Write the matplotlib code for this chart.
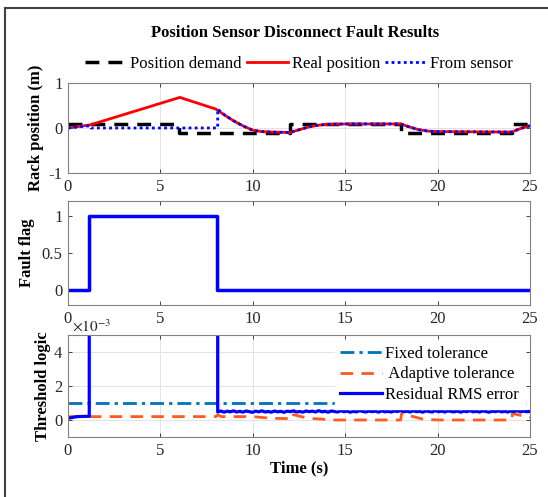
import numpy as np
import matplotlib.pyplot as plt
from matplotlib.lines import Line2D
from matplotlib.ticker import FixedLocator

plt.rcParams['font.family'] = ['Liberation Serif', 'DejaVu Serif']
plt.rcParams['mathtext.fontset'] = 'stix'
plt.rcParams['axes.unicode_minus'] = False

# Rack position (m)
t_demand = [0, 6, 6, 12, 12, 18, 18, 24, 24, 25]
demand = [0.1, 0.1, -0.1, -0.1, 0.1, 0.1, -0.1, -0.1, 0.1, 0.1]

t_real = [0, 1.2, 6.05, 8.0, 8.5, 9.0, 9.5, 10.0, 10.5, 11.0, 12.0, 12.5, 13.0, 13.5, 14.0,
          15.0, 18.0, 18.5, 19.0, 19.5, 20.0, 24.0, 24.5, 25.0]
real = [0.0, 0.07, 0.68, 0.42, 0.28, 0.15, 0.04, -0.05, -0.08, -0.09, -0.1, -0.04, 0.02, 0.06,
        0.08, 0.09, 0.09, 0.02, -0.04, -0.07, -0.08, -0.09, -0.01, 0.05]

t_sensor_fault = [0, 1.2, 1.25, 8.1, 8.1]
sensor_fault = [0.0, 0.05, 0.0, 0.0, 0.42]

# Fault flag
t_flag = [0, 1.15, 1.15, 8.05, 8.05, 25]
flag = [0, 0, 1, 1, 0, 0]

# Threshold logic
t_fixed = [0, 25]
fixed_tol = [1e-3, 1e-3]

t_adapt = [0, 8.0, 8.1, 8.3, 10.0, 11.0, 12.0, 12.05, 13.0, 14.5, 18.0, 18.05, 19.2, 20.0,
           24.0, 24.05, 25.0]
adapt_tol = [0.2e-3, 0.2e-3, 0.3e-3, 0.2e-3, 0.2e-3, 0.1e-3, 0.08e-3, 0.35e-3, 0.1e-3, 0.0,
             0.0, 0.38e-3, 0.05e-3, 0.0, 0.0, 0.38e-3, 0.15e-3]

t_resid_start = [0, 0.5, 1.15, 1.15, 8.1]
resid_start = [0.1e-3, 0.2e-3, 0.22e-3, 20e-3, 20e-3]
# residual after fault clears, x1e-3
resid_after = [0.47, 0.53, 0.46, 0.52, 0.48, 0.54, 0.47, 0.51, 0.46, 0.53, 0.49, 0.45, 0.52,
               0.48, 0.54, 0.47, 0.5, 0.46, 0.53, 0.48, 0.51, 0.45, 0.52, 0.49, 0.54, 0.47,
               0.5, 0.46, 0.53, 0.49, 0.52, 0.47, 0.55, 0.48, 0.51, 0.46, 0.53, 0.5, 0.47,
               0.54, 0.49, 0.52, 0.46, 0.51, 0.48, 0.55, 0.5, 0.47, 0.53, 0.49, 0.52, 0.46,
               0.54, 0.48, 0.51, 0.47, 0.53, 0.5, 0.56, 0.48, 0.52, 0.47, 0.54, 0.49, 0.51,
               0.46, 0.53, 0.5, 0.47, 0.55, 0.49, 0.52, 0.47, 0.54, 0.5, 0.48, 0.53, 0.46,
               0.52, 0.49, 0.55, 0.48, 0.51, 0.47, 0.53, 0.5, 0.46, 0.52, 0.49, 0.54, 0.48,
               0.51, 0.47, 0.53, 0.5, 0.55, 0.48, 0.52, 0.49, 0.5]

x_ticks = [0, 5, 10, 15, 20, 25]

c_blue = '#0000ff'
c_mblue = '#0072bd'
c_orange = '#ff5a1f'
c_axis = '#262626'
fs = 12

fig = plt.figure(figsize=(5.48, 4.97), dpi=100)
W, H = 548.0, 497.0


def make_axes(top, bottom):
    ax = fig.add_axes([68 / W, 1 - bottom / H, (530 - 68) / W, (bottom - top) / H])
    ax.set_xlim(0, 25)
    ax.xaxis.set_major_locator(FixedLocator(x_ticks))
    ax.tick_params(direction='in', length=3, width=0.6, top=True, right=True,
                   labelsize=fs, colors=c_axis, pad=4)
    for s in ax.spines.values():
        s.set_color('#808080')
        s.set_linewidth(0.8)
    return ax


# top panel
ax1 = make_axes(83, 173)
ax1.grid(True, color='#e3e3e3', linewidth=0.7)
ax1.set_axisbelow(True)
ax1.plot(t_demand, demand, color='black', lw=2.5, dashes=(4, 2.6), label='Position demand')
ax1.plot(t_real, real, color='#ff0000', lw=2, label='Real position')
i8 = t_real.index(8.5)
t_sensor = t_sensor_fault + t_real[i8:]
sensor = sensor_fault + real[i8:]
ax1.plot(t_sensor, sensor, color=c_blue, lw=2, linestyle=(0, (1, 1.2)), label='From sensor')
ax1.set_ylim(-1, 1)
ax1.set_yticks([-1, 0, 1])
ax1.set_ylabel('Rack position (m)', fontsize=fs, fontweight='bold')
ax1.yaxis.set_label_coords(-0.052, 0.5)
ax1.legend(loc='lower center', bbox_to_anchor=(0.5, 1.0), ncol=3, frameon=False,
           fontsize=fs, handlelength=2.5, handletextpad=0.2, columnspacing=0.3,
           borderaxespad=0.25)
fig.text(295 / W, 1 - 33 / H, 'Position Sensor Disconnect Fault Results', ha='center',
         va='center', fontsize=12, fontweight='bold')

# middle panel
ax2 = make_axes(201, 305)
ax2.plot(t_flag, flag, color=c_blue, lw=2.5)
ax2.set_ylim(-0.2, 1.2)
ax2.set_yticks([0, 0.5, 1])
ax2.set_yticklabels(['0', '0.5', '1'])
ax2.set_ylabel('Fault flag', fontsize=fs, fontweight='bold')
ax2.yaxis.set_label_coords(-0.071, 0.5)

# bottom panel
ax3 = make_axes(335, 437)
ax3.grid(True, color='#e3e3e3', linewidth=0.7)
ax3.set_axisbelow(True)
t_resid = t_resid_start + list(np.linspace(8.1, 25, len(resid_after)))
resid = resid_start + [v * 1e-3 for v in resid_after]
ax3.plot(t_fixed, np.array(fixed_tol) * 1e3, color=c_mblue, lw=2, linestyle='-.',
         dashes=(5, 1.8, 1.2, 1.8), label='Fixed tolerance')
ax3.plot(t_adapt, np.array(adapt_tol) * 1e3, color=c_orange, lw=2, dashes=(4.5, 3),
         label=' Adaptive tolerance')
ax3.plot(t_resid, np.array(resid) * 1e3, color=c_blue, lw=2.3, label='Residual RMS error')
ax3.set_ylim(-1, 5)
ax3.set_yticks([0, 2, 4])
ax3.set_ylabel('Threshold logic', fontsize=fs, fontweight='bold')
ax3.yaxis.set_label_coords(-0.037, 0.5)
ax3.set_xlabel('Time (s)', fontsize=fs, fontweight='bold', labelpad=1)
ax3.text(0.008, 1.0, r'$\times 10^{-3}$', transform=ax3.transAxes, fontsize=11,
         color=c_axis, ha='left', va='bottom')
leg = ax3.legend(loc='upper right', fontsize=fs, handlelength=2.5, handletextpad=0.2,
                 borderaxespad=0.3, labelspacing=0.28, borderpad=0.35, framealpha=1,
                 edgecolor='white', fancybox=False)

# figure border (top and left)
fig.add_artist(Line2D([5 / W, 1], [1 - 8 / H, 1 - 8 / H], color='#404040', lw=1.5))
fig.add_artist(Line2D([5 / W, 5 / W], [0, 1 - 8 / H], color='#404040', lw=1.5))

fig.savefig('out.png', dpi=100)
